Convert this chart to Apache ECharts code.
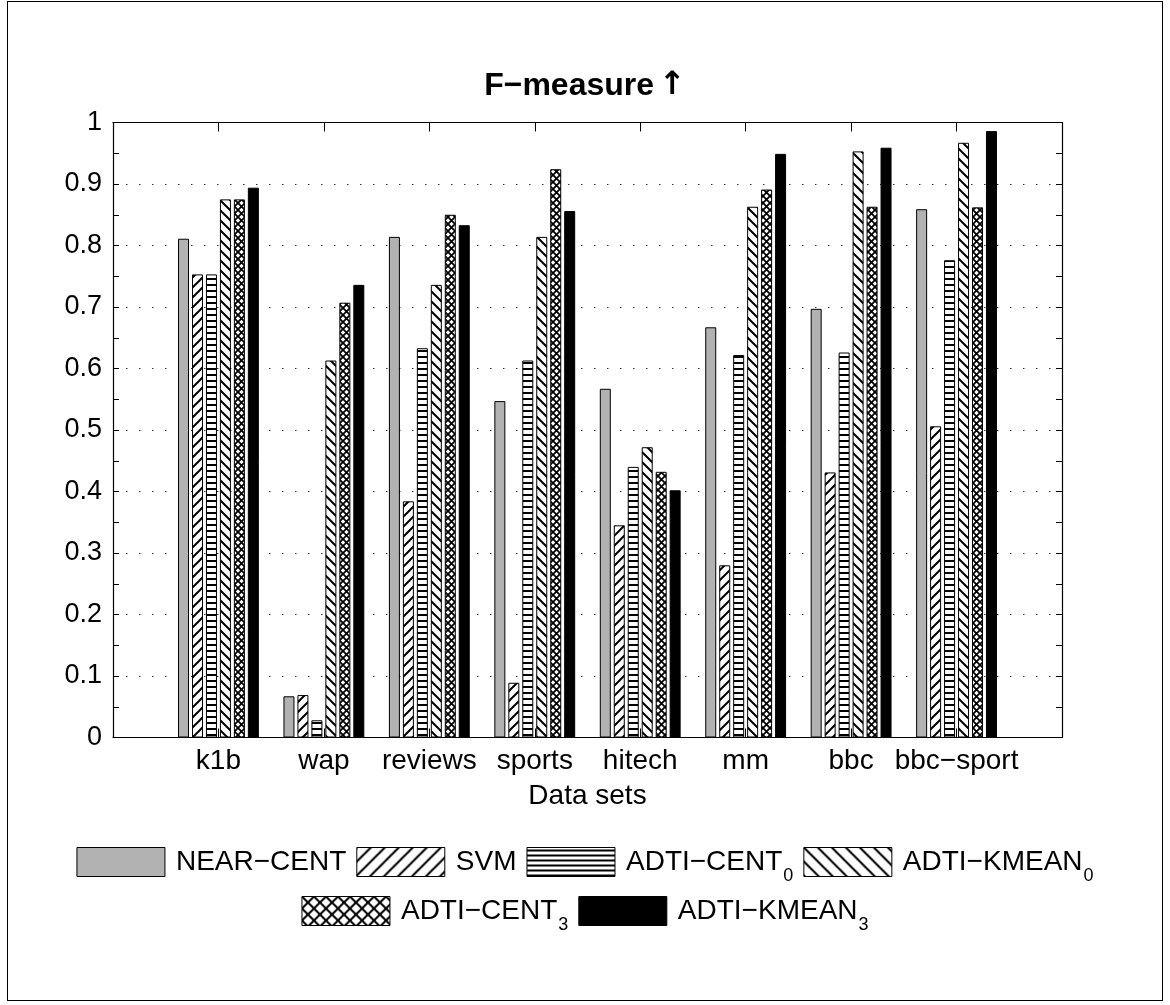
<!DOCTYPE html>
<html>
<head>
<meta charset="utf-8">
<script src="https://cdn.jsdelivr.net/npm/echarts@6/dist/echarts.min.js"></script>
<style>
  html, body { margin: 0; padding: 0; background: #fff; }
  #chart { position: absolute; left: 0; top: 0; width: 1170px; height: 1005px; }
  #frame { position: absolute; left: 7px; top: 1px; width: 1156px; height: 1000px; border: 1px solid #000; box-sizing: border-box; pointer-events: none; }
</style>
</head>
<body>
<div id="chart"></div>
<div id="frame"></div>
<script>
  // data sets (x) and F-measure values per method
  const categories = ['k1b', 'wap', 'reviews', 'sports', 'hitech', 'mm', 'bbc', 'bbc\u2212sport'];
  const nearCent   = [0.811, 0.067, 0.814, 0.547, 0.567, 0.667, 0.697, 0.859];
  const svm        = [0.753, 0.069, 0.384, 0.089, 0.345, 0.280, 0.431, 0.506];
  const adtiCent0  = [0.753, 0.028, 0.633, 0.613, 0.440, 0.622, 0.626, 0.776];
  const adtiKmean0 = [0.875, 0.613, 0.736, 0.814, 0.472, 0.863, 0.953, 0.967];
  const adtiCent3  = [0.875, 0.707, 0.850, 0.924, 0.432, 0.891, 0.863, 0.862];
  const adtiKmean3 = [0.894, 0.736, 0.833, 0.856, 0.402, 0.949, 0.959, 0.986];
  const seriesNames = ['NEAR\u2212CENT', 'SVM', 'ADTI\u2212CENT_0', 'ADTI\u2212KMEAN_0', 'ADTI\u2212CENT_3', 'ADTI\u2212KMEAN_3'];

  const FONT = '"Liberation Sans", Arial, Helvetica, sans-serif';

  // hatch fill drawn on a small tile (s = tile size)
  function hatch(kind, s, lw) {
    const c = document.createElement('canvas');
    let w = s, h = s;
    if (kind === 'h') { w = 4; }
    c.width = w; c.height = h;
    const g = c.getContext('2d');
    g.fillStyle = '#fff';
    g.fillRect(0, 0, w, h);
    g.strokeStyle = '#000';
    g.fillStyle = '#000';
    g.lineWidth = lw;
    g.beginPath();
    if (kind === '/') {
      g.moveTo(0, h); g.lineTo(w, 0);
      g.moveTo(-w / 2, h / 2); g.lineTo(w / 2, -h / 2);
      g.moveTo(w / 2, h * 1.5); g.lineTo(w * 1.5, h / 2);
      g.stroke();
    } else if (kind === '\\') {
      g.moveTo(0, 0); g.lineTo(w, h);
      g.moveTo(-w / 2, h / 2); g.lineTo(w / 2, h * 1.5);
      g.moveTo(w / 2, -h / 2); g.lineTo(w * 1.5, h / 2);
      g.stroke();
    } else if (kind === 'h') {
      g.fillRect(0, Math.round(h / 2 - lw / 2), w, lw);
    } else if (kind === 'x') {
      g.moveTo(0, 0); g.lineTo(w, h);
      g.moveTo(0, h); g.lineTo(w, 0);
      g.stroke();
    }
    return { image: c, repeat: 'repeat' };
  }

  const fills = ['#b2b2b2', hatch('/', 10, 2), hatch('h', 6, 2), hatch('\\', 10, 2), hatch('x', 7, 1.8), '#000'];
  const legendFills = ['#b2b2b2', hatch('/', 14, 2), hatch('h', 5, 2), hatch('\\', 14, 2), hatch('x', 12, 2), '#000'];
  const values = [nearCent, svm, adtiCent0, adtiKmean0, adtiCent3, adtiKmean3];

  const series = seriesNames.map((name, k) => ({
    name: name,
    type: 'bar',
    xAxisIndex: 0,
    yAxisIndex: 0,
    barWidth: 11,
    barGap: '27%',
    data: values[k].map((v, i) => [i + 1, v]),
    itemStyle: { color: fills[k], borderColor: '#000', borderWidth: 1 },
    emphasis: { disabled: true }
  }));

  // subscripts in legend names
  const legendFmt = name => {
    const p = name.split('_');
    return p.length > 1 ? '{t|' + p[0] + '}{s|' + p[1] + '}' : '{t|' + name + '}';
  };
  const legendText = {
    color: '#000',
    padding: [0, 0, 0, 6],
    rich: {
      t: { fontSize: 28, fontFamily: FONT, color: '#000' },
      s: { fontSize: 18, fontFamily: FONT, color: '#000', padding: [28, 0, 0, 1] }
    }
  };
  const legendBase = {
    left: 'center',
    orient: 'horizontal',
    icon: 'rect',
    itemWidth: 88,
    itemHeight: 29,
    itemGap: 10,
    selectedMode: false,
    itemStyle: { borderColor: '#000', borderWidth: 1 },
    textStyle: legendText,
    formatter: legendFmt
  };
  const legendItems = seriesNames.map((name, k) => ({ name: name, itemStyle: { color: legendFills[k] } }));

  const axisLine = { show: true, onZero: false, lineStyle: { color: '#000', width: 1.2 } };
  const catLabel = v => {
    const r = Math.round(v);
    return Math.abs(v - r) < 1e-6 && categories[r - 1] ? categories[r - 1] : '';
  };

  const chart = echarts.init(document.getElementById('chart'), null, { renderer: 'canvas' });
  chart.setOption({
    animation: false,
    backgroundColor: '#fff',
    title: {
      text: '{b|F\u2212measure} {a|\u2191}',
      left: 'center',
      top: 65,
      textStyle: {
        rich: {
          b: { fontSize: 32, fontWeight: 'bold', fontFamily: FONT, color: '#000' },
          a: { fontSize: 32, fontFamily: '"DejaVu Sans", sans-serif', color: '#000' }
        }
      }
    },
    grid: { left: 113, right: 108, top: 122.5, bottom: 267.5, containLabel: false },
    legend: [
      Object.assign({}, legendBase, { data: legendItems.slice(0, 4), top: 842 }),
      Object.assign({}, legendBase, { data: legendItems.slice(4), top: 891 })
    ],
    xAxis: [
      {
        type: 'value', min: 0, max: 9, interval: 1, position: 'bottom',
        axisLine: axisLine,
        axisTick: { show: true, inside: true, length: 9, lineStyle: { color: '#000' } },
        axisLabel: { formatter: catLabel, fontSize: 28, fontFamily: FONT, color: '#000', margin: 10 },
        splitLine: { show: false },
        name: 'Data sets',
        nameLocation: 'middle',
        nameGap: 45,
        nameTextStyle: { fontSize: 28, fontFamily: FONT, color: '#000' }
      },
      {
        type: 'value', min: 0, max: 9, interval: 1, position: 'top',
        axisLine: axisLine,
        axisTick: { show: true, inside: true, length: 9, lineStyle: { color: '#000' } },
        axisLabel: { show: false },
        splitLine: { show: false }
      }
    ],
    yAxis: [
      {
        type: 'value', min: 0, max: 1, interval: 0.1, position: 'left',
        axisLine: axisLine,
        axisTick: { show: true, inside: true, length: 6, lineStyle: { color: '#000' } },
        minorTick: { show: true, splitNumber: 2, length: 6, lineStyle: { color: '#000' } },
        axisLabel: { fontSize: 27, fontFamily: FONT, color: '#000', margin: 11 },
        splitLine: { show: true, lineStyle: { color: '#333', width: 1, type: [1.5, 11.5] } }
      },
      {
        type: 'value', min: 0, max: 1, interval: 0.1, position: 'right',
        axisLine: axisLine,
        axisTick: { show: true, inside: true, length: 6, lineStyle: { color: '#000' } },
        minorTick: { show: true, splitNumber: 2, length: 6, lineStyle: { color: '#000' } },
        axisLabel: { show: false },
        splitLine: { show: false }
      }
    ],
    series: series
  });
</script>
</body>
</html>
